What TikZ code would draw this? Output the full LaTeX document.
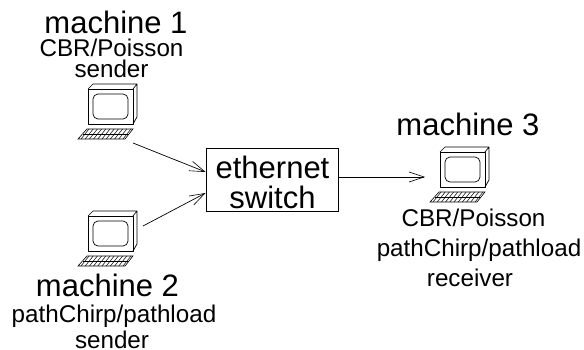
\documentclass[tikz,border=0pt]{standalone}
\usepackage{fontspec}
\setmainfont{Liberation Sans}
\usetikzlibrary{arrows.meta}
\tikzset{
  x=1pt,y=-1pt,
  bigl/.style={font=\fontsize{31}{33}\selectfont,inner sep=0pt,anchor=center},
  smalll/.style={font=\fontsize{24.2}{26}\selectfont,inner sep=0pt,anchor=center,align=center},
  sw/.style={draw,line width=0.8pt,inner sep=0pt,minimum width=132pt,minimum height=63pt},
  swt/.style={font=\fontsize{31}{33}\selectfont,inner sep=0pt,anchor=center},
  link/.style={line width=0.7pt,-{Straight Barb[length=15pt,width=10pt,line width=0.6pt]}},
  computer/.pic={
    \draw[line width=0.8pt,line join=round] (0,0) rectangle (45,35);
    \draw[line width=0.7pt,line join=round] (0,0) -- (5,-5) -- (49,-5) -- (49,28) -- (45,35) (45,0) -- (49,-5);
    \draw[line width=0.7pt,rounded corners=5pt] (5,5) rectangle (40,30);
    \draw[line width=0.6pt] (-1,40) -- (45,40) -- (37,50) -- (-10,50) -- cycle;
    \draw[line width=0.5pt] (-5,45) -- (41,45);
    \foreach \i in {0,...,10} {\draw[line width=0.5pt] ({1+4.2*\i},40) -- ({-7+4.2*\i},50);}
  }
}
\begin{document}
\begin{tikzpicture}
\useasboundingbox (0,0) rectangle (584,350);
\pic at (88,89) {computer};
\pic at (88,216) {computer};
\pic at (440,152) {computer};
\node[sw] (switch) at (272,179.5) {};
\node[swt] (t1) at (272.5,167) {ethernet};
\node[swt] (t2) at (272.5,197) {switch};
\coordinate (m1) at (133,143);
\coordinate (m2) at (143,226);
\coordinate (m3) at (425,177);
\draw[link] (m1) -- (switch.west |- 0,172);
\draw[link] (m2) -- (switch.west |- 0,193);
\draw[link] (switch.east |- 0,177) -- (m3);
\node[bigl] (l1) at (116,22) {machine 1};
\node[smalll] (l1a) at (111.5,47.5) {CBR/Poisson};
\node[smalll] (l1b) at (111.5,69) {sender};
\node[bigl] (l2) at (107.5,285) {machine 2};
\node[smalll] (l2a) at (114,316) {pathChirp/pathload};
\node[smalll] (l2b) at (112,339.5) {sender};
\node[bigl] (l3) at (468,124) {machine 3};
\node[smalll] (l3a) at (473.5,218) {CBR/Poisson};
\node[smalll] (l3b) at (479,250) {pathChirp/pathload};
\node[smalll] (l3c) at (470,278) {receiver};
\end{tikzpicture}
\end{document}
